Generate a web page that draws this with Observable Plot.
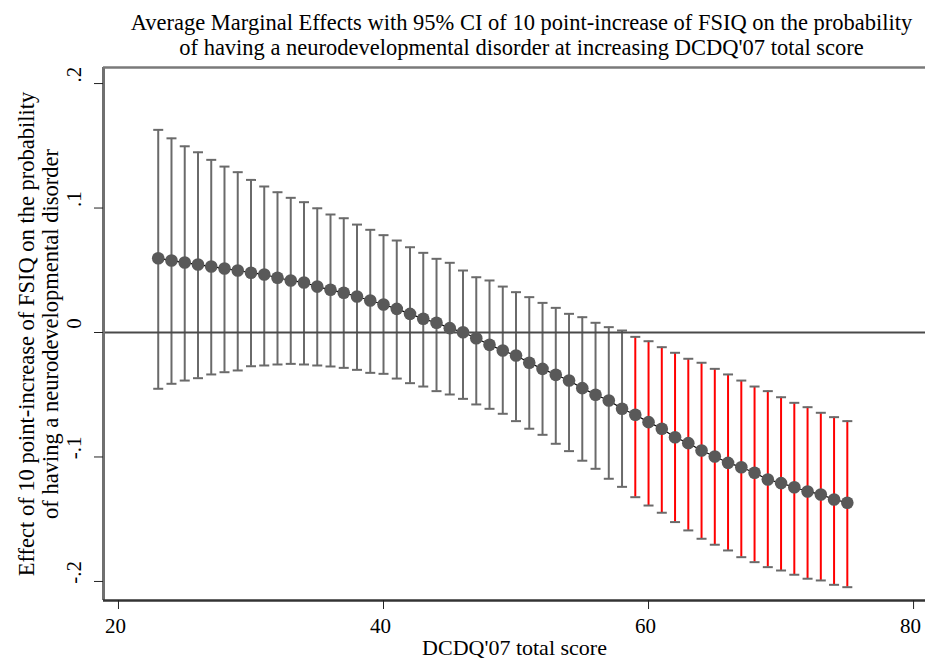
<!DOCTYPE html>
<html>
<head>
<meta charset="utf-8">
<script src="https://cdn.jsdelivr.net/npm/d3@7"></script>
<script src="https://cdn.jsdelivr.net/npm/@observablehq/plot@0.6"></script>
<style>
  html, body { margin: 0; padding: 0; background: #fff; }
  #chart svg { display: block; }
</style>
</head>
<body>
<div id="chart"></div>
<script>
const scores = [23,24,25,26,27,28,29,30,31,32,33,34,35,36,37,38,39,40,41,42,43,44,45,46,47,48,49,
  50,51,52,53,54,55,56,57,58,59,60,61,62,63,64,65,66,67,68,69,70,71,72,73,74,75];
const effect = [.0597,.0578,.0562,.0546,.0530,.0514,.0498,.0480,.0466,.0440,.0418,.0402,.0369,.0343,
  .0319,.0289,.0257,.0225,.0190,.0150,.0110,.0078,.0035,.0002,-.0046,-.0099,-.0145,-.0185,-.0243,
  -.0292,-.0340,-.0386,-.0447,-.0500,-.0546,-.0613,-.0661,-.0720,-.0773,-.0841,-.0889,-.0948,-.0996,
  -.1047,-.1082,-.1127,-.1181,-.1210,-.1243,-.1277,-.1301,-.1341,-.1368];
const upper = [.1628,.1560,.1496,.1448,.1387,.1333,.1288,.1226,.1173,.1127,.1082,.1047,.0998,.0948,
  .0918,.0867,.0825,.0782,.0739,.0685,.0640,.0592,.0560,.0498,.0444,.0418,.0369,.0324,.0284,.0238,
  .0198,.0150,.0123,.0078,.0043,.0016,-.0035,-.0070,-.0118,-.0163,-.0211,-.0243,-.0292,-.0337,-.0386,
  -.0434,-.0471,-.0520,-.0565,-.0600,-.0645,-.0680,-.0712];
const lower = [-.0452,-.0412,-.0386,-.0367,-.0337,-.0319,-.0305,-.0271,-.0265,-.0257,-.0252,-.0257,
  -.0265,-.0273,-.0284,-.0300,-.0324,-.0332,-.0370,-.0407,-.0434,-.0471,-.0498,-.0533,-.0578,-.0613,
  -.0653,-.0712,-.0773,-.0822,-.0894,-.0953,-.1030,-.1095,-.1175,-.1240,-.1323,-.1390,-.1448,-.1523,
  -.1590,-.1657,-.1705,-.1751,-.1805,-.1845,-.1885,-.1912,-.1946,-.1978,-.1992,-.2027,-.2046];
const xTicks = [20, 40, 60, 80];
const yTicks = [-.2, -.1, 0, .1, .2];
const yTickLabels = ["-.2", "-.1", "0", ".1", ".2"];
const titleText = "Average Marginal Effects with 95% CI of 10 point-increase of FSIQ on the probability\nof having a neurodevelopmental disorder at increasing DCDQ'07 total score";
const xTitle = "DCDQ'07 total score";
const yTitle = "Effect of 10 point-increase of FSIQ on the probability\nof having a neurodevelopmental disorder";

const data = scores.map((x, i) => ({x, est: effect[i], hi: upper[i], lo: lower[i]}));
const yLab = yTicks.map((v, i) => ({v, label: yTickLabels[i]}));
const xDomain = [18.87, 80.9];
const yDomain = [-0.2153, 0.2129];

const FONT = "Liberation Serif";
const GREY = "#6a6a6a";
const capSymbol = {
  draw(context, size) {
    const w = Math.sqrt(size / Math.PI);
    context.moveTo(-w, 0);
    context.lineTo(w, 0);
  }
};

const chart = Plot.plot({
  width: 925,
  height: 659,
  marginLeft: 103,
  marginRight: 0,
  marginTop: 67,
  marginBottom: 59,
  style: {fontFamily: FONT, fontSize: "21px", color: "#000", background: "#fff"},
  x: {domain: xDomain, axis: null},
  y: {domain: yDomain, axis: null},
  marks: [
    // CI bars
    Plot.ruleX(data.filter(d => d.hi >= 0), {x: "x", y1: "lo", y2: "hi", stroke: GREY, strokeWidth: 2}),
    Plot.ruleX(data.filter(d => d.hi < 0), {x: "x", y1: "lo", y2: "hi", stroke: "#ff0000", strokeWidth: 2}),
    Plot.dot(data, {x: "x", y: "hi", symbol: capSymbol, r: 5, stroke: GREY, strokeWidth: 2, fill: "none"}),
    Plot.dot(data, {x: "x", y: "lo", symbol: capSymbol, r: 5, stroke: GREY, strokeWidth: 2, fill: "none"}),
    // zero line
    Plot.ruleY([0], {stroke: "#4a4a4a", strokeWidth: 2}),
    // estimates
    Plot.line(data, {x: "x", y: "est", stroke: "#000", strokeWidth: 1.2}),
    Plot.dot(data, {x: "x", y: "est", r: 6.3, fill: "#595959", stroke: "none"}),
    // frame lines
    Plot.ruleX([xDomain[0]], {stroke: "#707070", strokeWidth: 3}),
    Plot.ruleY([yDomain[1]], {stroke: "#7a7a7a", strokeWidth: 2.5}),
    Plot.ruleY([yDomain[0]], {stroke: "#333", strokeWidth: 2.5}),
    // x axis
    Plot.axisX({ticks: xTicks, tickSize: 9, tickFormat: () => "", label: null, stroke: "#222"}),
    Plot.text(xTicks, {x: d => d, frameAnchor: "bottom", dy: 26, dx: -3, lineAnchor: "middle",
      text: d => String(d), fontSize: 21, fill: "#000"}),
    // y axis
    Plot.axisY({ticks: yTicks, tickSize: 9, tickFormat: () => "", label: null, stroke: "#222"}),
    Plot.text(yLab, {y: "v", text: "label", frameAnchor: "left", dx: -29, dy: -9, rotate: -90,
      textAnchor: "middle", lineAnchor: "middle", fontSize: 21, fill: "#000"}),
    // titles
    Plot.text([titleText], {frameAnchor: "top", dy: -33, dx: 7, lineAnchor: "middle", lineHeight: 1.1,
      fontSize: 22.5, fill: "#000"}),
    Plot.text([xTitle], {frameAnchor: "bottom", dy: 47, lineAnchor: "middle", fontSize: 22, fill: "#000"}),
    Plot.text([yTitle], {frameAnchor: "left", dx: -65.5, rotate: -90, textAnchor: "middle",
      lineAnchor: "middle", lineHeight: 1.1, fontSize: 22.5, fill: "#000"})
  ]
});
document.getElementById("chart").appendChild(chart);
</script>
</body>
</html>
